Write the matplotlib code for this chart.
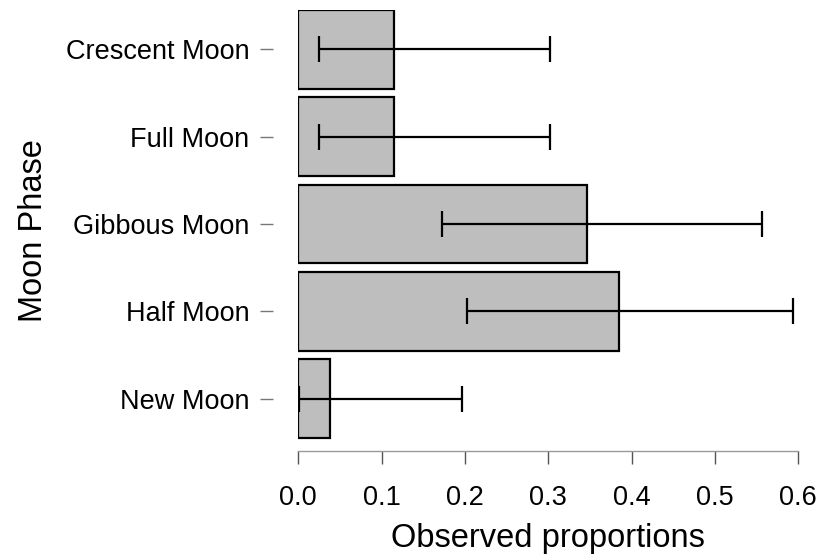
import matplotlib.pyplot as plt
import numpy as np

plt.rcParams["font.family"] = ["Liberation Sans", "DejaVu Sans"]

# observed proportions with confidence bounds
phases = ["Crescent Moon", "Full Moon", "Gibbous Moon", "Half Moon", "New Moon"]
proportions = [0.115, 0.115, 0.346, 0.385, 0.038]
ci_lower = [0.025, 0.025, 0.172, 0.202, 0.001]
ci_upper = [0.302, 0.302, 0.557, 0.594, 0.196]
x_ticks = [0.0, 0.1, 0.2, 0.3, 0.4, 0.5, 0.6]

fig = plt.figure(figsize=(8.22, 5.56), dpi=100)
ax = fig.add_axes([298.3 / 822, 105 / 556, 500 / 822, 441 / 556])

pos = np.arange(len(phases))
props = np.array(proportions)
err = [props - np.array(ci_lower), np.array(ci_upper) - props]

ax.barh(pos, props, height=0.9, color="#BEBEBE", edgecolor="black", linewidth=1.6)
ax.errorbar(props, pos, xerr=err, fmt="none", ecolor="black",
            elinewidth=1.6, capsize=9.4, capthick=1.6)

ax.set_xlim(0, 0.6)
ax.set_ylim(4.6, -0.45)
ax.set_xticks(x_ticks)
ax.set_xticklabels([f"{t:.1f}" for t in x_ticks])
ax.set_yticks(pos)
ax.set_yticklabels(phases)

for s in ["top", "right"]:
    ax.spines[s].set_visible(False)
# offsets in points (dpi 100)
ax.spines["left"].set_position(("outward", 18))
ax.spines["left"].set_visible(False)
ax.spines["bottom"].set_bounds(0, 0.6)
ax.spines["bottom"].set_color("#999999")
ax.spines["bottom"].set_linewidth(1.0)

ax.tick_params(axis="x", length=9.4, width=1.0, color="#555555",
               labelsize=19.5, pad=15)
ax.tick_params(axis="y", length=9.4, width=1.0, color="#777777",
               labelsize=19.5, pad=8)

ax.set_xlabel("Observed proportions", fontsize=23.5, labelpad=9)
ax.set_ylabel("Moon Phase", fontsize=23.5, labelpad=12)

plt.savefig("out.png", dpi=100)
